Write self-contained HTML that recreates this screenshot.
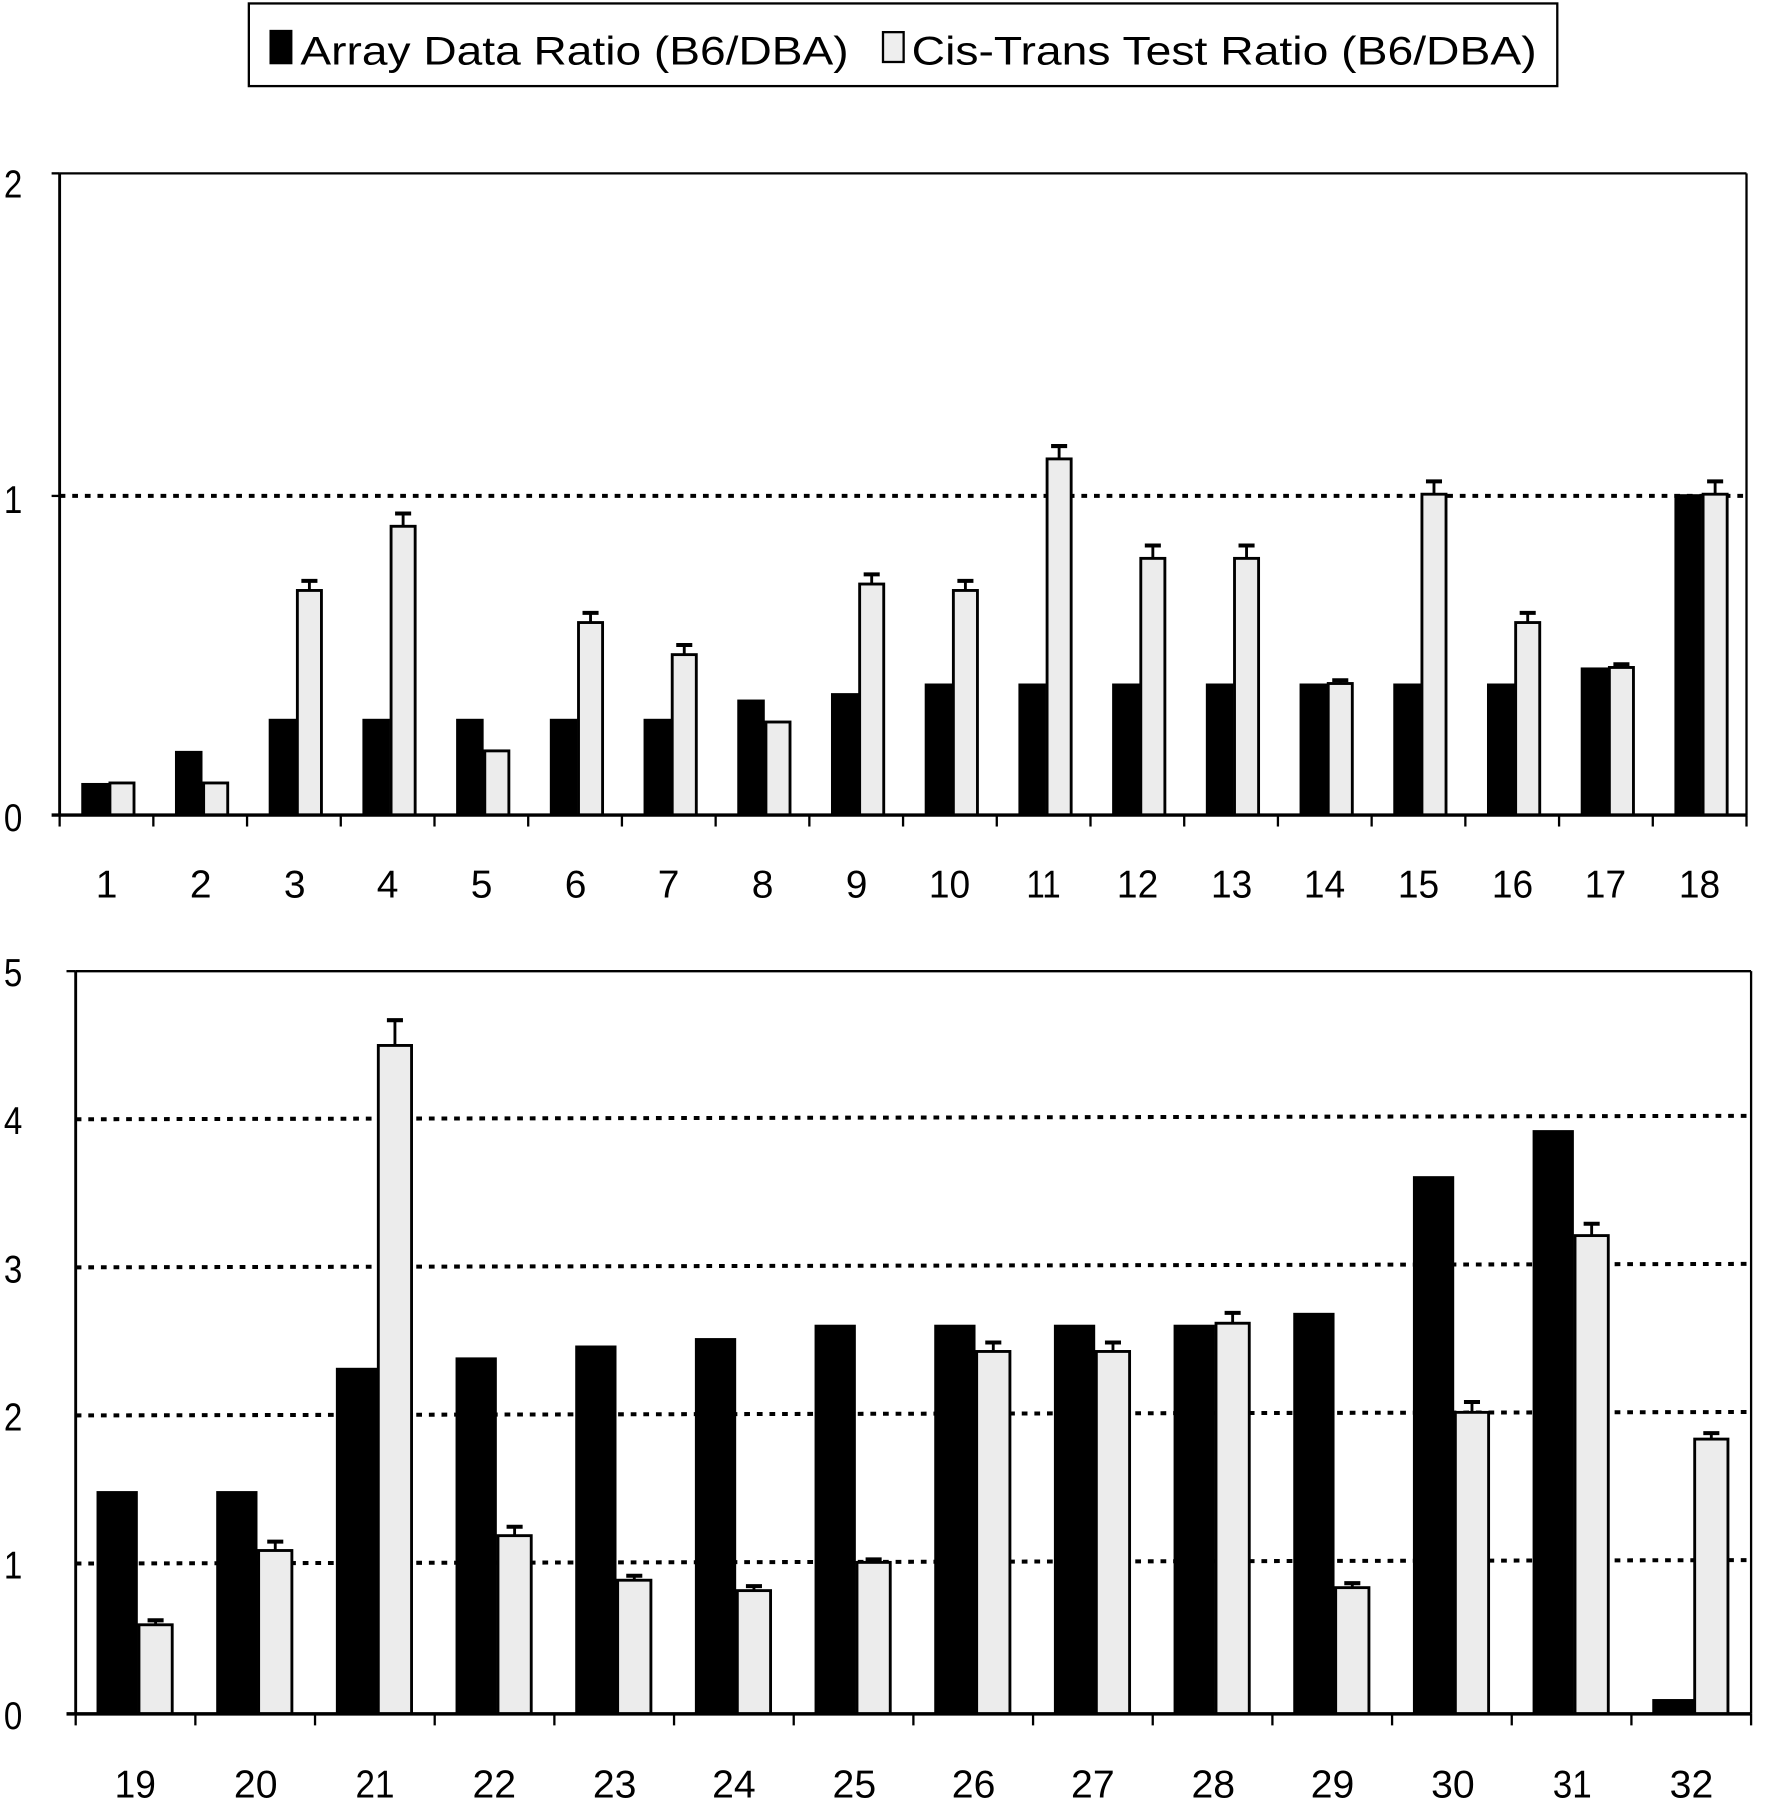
<!DOCTYPE html>
<html><head><meta charset="utf-8"><style>
html,body{margin:0;padding:0;background:#fff}
svg{display:block}
text{font-family:"Liberation Sans",Arial,sans-serif;fill:#000}
</style></head><body>
<svg id="s" width="1766" height="1800" viewBox="0 0 1540 1568" preserveAspectRatio="none" xmlns="http://www.w3.org/2000/svg">
<rect x="0" y="0" width="1540" height="1568" fill="#fff"/>
<rect x="217" y="3" width="1141" height="72" fill="#fff" stroke="#000" stroke-width="2"/>
<rect x="235" y="26" width="20" height="30" fill="#000"/>
<text x="262" y="56" font-size="35" textLength="478" lengthAdjust="spacingAndGlyphs">Array Data Ratio (B6/DBA)</text>
<rect x="770" y="28" width="18" height="26" fill="#eee" stroke="#000" stroke-width="2"/>
<text x="795" y="56" font-size="35" textLength="545" lengthAdjust="spacingAndGlyphs">Cis-Trans Test Ratio (B6/DBA)</text>
<line x1="52" y1="151" x2="1523" y2="151" stroke="#000" stroke-width="2"/>
<line x1="1523" y1="151" x2="1523" y2="710" stroke="#000" stroke-width="2"/>
<line x1="52" y1="432" x2="1523" y2="432" stroke="#000" stroke-width="3.5" stroke-dasharray="5,6"/>
<g id="top"></g>
<line x1="52" y1="151" x2="52" y2="711" stroke="#000" stroke-width="2.5"/>
<line x1="45" y1="151" x2="52" y2="151" stroke="#000" stroke-width="2"/>
<line x1="45" y1="432" x2="52" y2="432" stroke="#000" stroke-width="2"/>
<line x1="45" y1="710" x2="1523" y2="710" stroke="#000" stroke-width="3"/>
<g font-size="34" transform="scale(0.85,1)">
<text x="4" y="172">2</text>
<text x="4" y="447">1</text>
<text x="4" y="724">0</text>
</g>
<g font-size="34" text-anchor="middle">
<text x="93" y="782">1</text><text x="175" y="782">2</text><text x="257" y="782">3</text><text x="338" y="782">4</text><text x="420" y="782">5</text><text x="502" y="782">6</text><text x="583" y="782">7</text><text x="665" y="782">8</text><text x="747" y="782">9</text><text x="828" y="782" textLength="36" lengthAdjust="spacingAndGlyphs">10</text><text x="910" y="782" textLength="30" lengthAdjust="spacingAndGlyphs">11</text><text x="992" y="782" textLength="36" lengthAdjust="spacingAndGlyphs">12</text><text x="1074" y="782" textLength="36" lengthAdjust="spacingAndGlyphs">13</text><text x="1155" y="782" textLength="36" lengthAdjust="spacingAndGlyphs">14</text><text x="1237" y="782" textLength="36" lengthAdjust="spacingAndGlyphs">15</text><text x="1319" y="782" textLength="36" lengthAdjust="spacingAndGlyphs">16</text><text x="1400" y="782" textLength="36" lengthAdjust="spacingAndGlyphs">17</text><text x="1482" y="782" textLength="36" lengthAdjust="spacingAndGlyphs">18</text>
</g>
<line x1="66" y1="846" x2="1527" y2="846" stroke="#000" stroke-width="2"/>
<line x1="1527" y1="846" x2="1527" y2="1493" stroke="#000" stroke-width="2"/>
<g stroke="#000" stroke-width="3.5" stroke-dasharray="5,6">
<line x1="66" y1="975" x2="1527" y2="972"/>
<line x1="66" y1="1104" x2="1527" y2="1101"/>
<line x1="66" y1="1233" x2="1527" y2="1230"/>
<line x1="66" y1="1362" x2="1527" y2="1359"/>
</g>
<g id="bot"></g>
<line x1="66" y1="846" x2="66" y2="1494" stroke="#000" stroke-width="2.5"/>
<line x1="58" y1="846" x2="66" y2="846" stroke="#000" stroke-width="2"/>
<line x1="58" y1="1493" x2="1527" y2="1493" stroke="#000" stroke-width="3"/>
<g font-size="34" transform="scale(0.85,1)">
<text x="4" y="859">5</text>
<text x="4" y="988">4</text>
<text x="4" y="1117">3</text>
<text x="4" y="1246">2</text>
<text x="4" y="1375">1</text>
<text x="4" y="1506">0</text>
</g>
<g font-size="34" text-anchor="middle">
<text x="118" y="1566" textLength="36" lengthAdjust="spacingAndGlyphs">19</text><text x="223" y="1566" textLength="38" lengthAdjust="spacingAndGlyphs">20</text><text x="327" y="1566" textLength="34" lengthAdjust="spacingAndGlyphs">21</text><text x="431" y="1566" textLength="38" lengthAdjust="spacingAndGlyphs">22</text><text x="536" y="1566" textLength="38" lengthAdjust="spacingAndGlyphs">23</text><text x="640" y="1566" textLength="38" lengthAdjust="spacingAndGlyphs">24</text><text x="745" y="1566" textLength="38" lengthAdjust="spacingAndGlyphs">25</text><text x="849" y="1566" textLength="38" lengthAdjust="spacingAndGlyphs">26</text><text x="953" y="1566" textLength="38" lengthAdjust="spacingAndGlyphs">27</text><text x="1058" y="1566" textLength="38" lengthAdjust="spacingAndGlyphs">28</text><text x="1162" y="1566" textLength="38" lengthAdjust="spacingAndGlyphs">29</text><text x="1267" y="1566" textLength="38" lengthAdjust="spacingAndGlyphs">30</text><text x="1371" y="1566" textLength="34" lengthAdjust="spacingAndGlyphs">31</text><text x="1475" y="1566" textLength="38" lengthAdjust="spacingAndGlyphs">32</text>
</g>
</svg>
<script>
var NS="http://www.w3.org/2000/svg";
function el(p,t,a){var e=document.createElementNS(NS,t);for(var k in a)e.setAttribute(k,a[k]);p.appendChild(e);}
function chart(id,x0,x1,y0,unit,n,bk,gr,er,bw,gw,tickTop){
 var g=document.getElementById(id),w=(x1-x0)/n;
 for(var i=0;i<n;i++){
  var c=x0+w*(i+0.5);
  var hb=bk[i]*unit,hg=gr[i]*unit;
  el(g,"rect",{x:c-bw+2,y:y0-hb,width:bw,height:hb,fill:"#000"});
  el(g,"rect",{x:c+3,y:y0-hg,width:gw,height:hg,fill:"#ececec",stroke:"#000","stroke-width":2.5});
  if(er[i]>0){var cx=c+3+gw/2,yt=y0-hg-er[i]*unit;
   el(g,"line",{x1:cx,y1:y0-hg,x2:cx,y2:yt,stroke:"#000","stroke-width":2.5});
   el(g,"line",{x1:cx-7,y1:yt,x2:cx+7,y2:yt,stroke:"#000","stroke-width":3.5});}
  var tx=x0+w*(i+1);
  el(g,"line",{x1:tx,y1:y0,x2:tx,y2:y0+tickTop,stroke:"#000","stroke-width":2});
 }
 el(g,"line",{x1:x0,y1:y0,x2:x0,y2:y0+tickTop,stroke:"#000","stroke-width":2});
}
chart("top",52,1523,710,279.5,18,
[0.1,0.2,0.3,0.3,0.3,0.3,0.3,0.36,0.38,0.41,0.41,0.41,0.41,0.41,0.41,0.41,0.46,1.0],
[0.1,0.1,0.7,0.9,0.2,0.6,0.5,0.29,0.72,0.7,1.11,0.8,0.8,0.41,1.0,0.6,0.46,1.0],
[0,0,0.03,0.04,0,0.03,0.03,0,0.03,0.03,0.04,0.04,0.04,0.01,0.04,0.03,0.01,0.04],24,21,10);
chart("bot",66,1527,1493,129.4,14,
[1.5,1.5,2.33,2.4,2.48,2.53,2.62,2.62,2.62,2.62,2.7,3.62,3.93,0.1],
[0.6,1.1,4.5,1.2,0.9,0.83,1.02,2.44,2.44,2.63,0.85,2.03,3.22,1.85],
[0.03,0.06,0.17,0.06,0.03,0.03,0.02,0.06,0.06,0.07,0.03,0.07,0.08,0.04],36,29,10);
</script>
</body></html>
